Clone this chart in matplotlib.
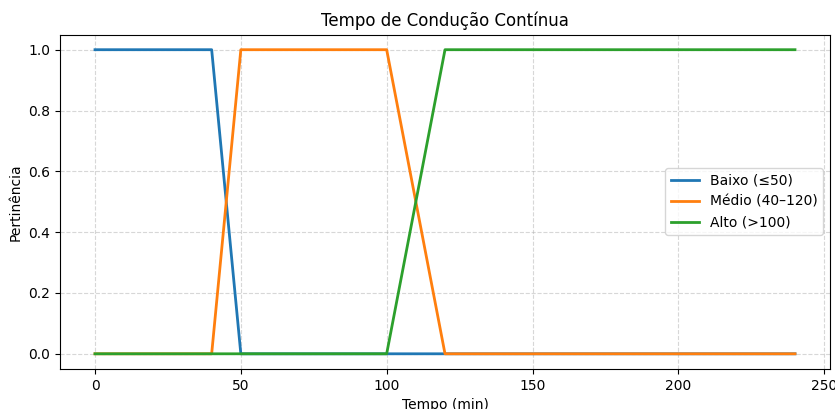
import numpy as np
import matplotlib
matplotlib.use("Agg")
import matplotlib.pyplot as plt

# breakpoints of each membership function (minutes, membership)
baixo_x = [0, 40, 50, 120, 240]
baixo_y = [1, 1, 0, 0, 0]
medio_x = [0, 40, 50, 100, 120, 240]
medio_y = [0, 0, 1, 1, 0, 0]
alto_x = [0, 100, 120, 240]
alto_y = [0, 0, 1, 1]

labels = ["Baixo (\u226450)", "M\u00e9dio (40\u2013120)", "Alto (>100)"]

plt.rcParams["font.size"] = 10

fig = plt.figure(figsize=(8.35, 4.09), dpi=100)
ax = fig.add_axes([60 / 835, 40 / 409, 770 / 835, 334.5 / 409])

ax.plot(baixo_x, baixo_y, label=labels[0], color="#1f77b4", lw=2)
ax.plot(medio_x, medio_y, label=labels[1], color="#ff7f0e", lw=2)
ax.plot(alto_x, alto_y, label=labels[2], color="#2ca02c", lw=2)

ax.set_title("Tempo de Condução Contínua", fontsize=12)
ax.set_xlabel("Tempo (min)")
ax.set_ylabel("Pertinência")
ax.grid(True, linestyle="--", alpha=0.5)
ax.legend(loc="center right")

fig.savefig("out.png", dpi=100)
